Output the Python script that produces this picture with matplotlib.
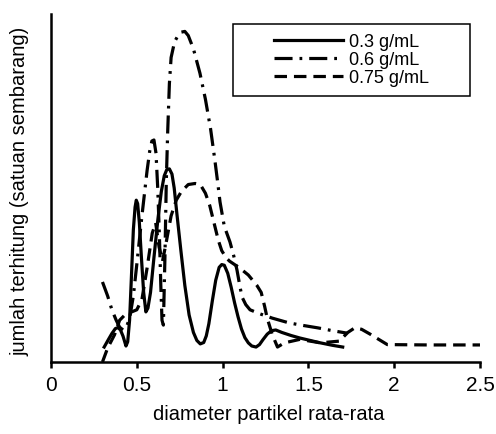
import matplotlib
matplotlib.use("Agg")
import matplotlib.pyplot as plt
from matplotlib.patches import Rectangle

plt.rcParams['font.family'] = ['Liberation Sans Narrow', 'Liberation Sans', 'DejaVu Sans']
plt.rcParams['lines.scale_dashes'] = False

# data (x = diameter, y = arbitrary counts 0-100)
x_03 = [0.31, 0.335, 0.355, 0.375, 0.39, 0.405, 0.42, 0.437, 0.447, 0.458, 0.47, 0.48,
        0.49, 0.497, 0.505, 0.515, 0.527, 0.54, 0.553, 0.565, 0.58, 0.60, 0.623,
        0.643, 0.66, 0.675, 0.69, 0.705, 0.718, 0.735, 0.757, 0.78, 0.805, 0.83,
        0.85, 0.87, 0.89, 0.905, 0.92, 0.94, 0.96, 0.98, 0.995, 1.01, 1.03, 1.05,
        1.07, 1.09, 1.11, 1.13, 1.15, 1.17, 1.195, 1.215, 1.235, 1.26, 1.285, 1.31,
        1.345, 1.40, 1.45, 1.51, 1.57, 1.64, 1.70]
y_03 = [4.3, 6.5, 8.2, 9.6, 9.9, 9.2, 7.4, 4.6, 5.8, 12, 26, 38,
        44.5, 46.5, 45.5, 40, 30, 20, 14.4, 15.5, 20, 30, 41,
        49, 53.5, 55.3, 55.5, 54, 50, 42, 32, 22, 13.5, 8.5,
        6.2, 5.2, 5.6, 7.5, 11, 17.5, 23.5, 27.2, 28, 27.8, 25.5, 21.5,
        17, 13, 9.5, 7, 5.5, 4.6, 4.3, 5, 6.4, 8, 9, 9.2,
        8.5, 7.6, 6.9, 6.2, 5.5, 4.8, 4.3]

x_06 = [0.30, 0.33, 0.355, 0.38, 0.40, 0.42, 0.44, 0.46, 0.48, 0.50, 0.53, 0.56,
        0.575, 0.588, 0.60, 0.612, 0.622, 0.632, 0.64, 0.647, 0.655, 0.664, 0.672,
        0.68, 0.69, 0.70, 0.72, 0.74, 0.76, 0.78, 0.80, 0.83, 0.868, 0.90, 0.93,
        0.955, 0.973, 0.985, 1.01, 1.043, 1.065, 1.084, 1.10, 1.113, 1.135, 1.16,
        1.22, 1.29, 1.39, 1.47, 1.556, 1.64, 1.725]
y_06 = [23, 19, 15, 12, 10, 9.2, 10, 13, 19, 28, 42, 55,
        60.5, 63.5, 63.8, 60, 50, 36, 22, 12, 10.6, 30, 52,
        66, 80, 87.5, 92, 93.8, 94.8, 95, 93.8, 90, 83, 75.5, 67,
        58, 51, 46, 39, 34.5, 30.5, 26.4, 22, 18.7, 16.5, 15,
        13.8, 12.6, 11.2, 10.5, 9.8, 9, 8.3]

x_075 = [0.30, 0.33, 0.37, 0.40, 0.44, 0.47, 0.50, 0.53, 0.56, 0.59, 0.61, 0.63,
         0.65, 0.67, 0.70, 0.73, 0.76, 0.80, 0.84, 0.87, 0.90, 0.925, 0.955, 0.975,
         0.995, 1.02, 1.04, 1.07, 1.10, 1.15, 1.20, 1.225, 1.245, 1.26, 1.29, 1.32,
         1.36, 1.45, 1.57, 1.68, 1.73, 1.77, 1.81, 1.86, 1.91, 1.96, 2.20, 2.50]
y_075 = [0, 4, 7.8, 12, 14, 14.4, 15, 18, 27, 37, 40, 33,
         29, 34, 42, 46.5, 49, 51, 51.3, 51, 48.5, 45, 39, 35,
         32, 30, 29, 28, 27, 25, 22, 20, 16, 12.6, 7.8, 4.3,
         5.5, 6.5, 5.5, 6, 8.5, 9.8, 9.4, 8, 6.5, 5, 4.9, 4.9]

labels = ['0.3 g/mL', '0.6 g/mL', '0.75 g/mL']
xticks = [0, 0.5, 1, 1.5, 2, 2.5]
xtick_labels = ['0', '0.5', '1', '1.5', '2', '2.5']

fig = plt.figure(figsize=(4.96, 4.34), dpi=100)
ax = fig.add_axes([0.1028, 0.1659, 0.8649, 0.8018])

lw = 2.3
ax.plot(x_03, y_03, color='black', lw=lw, label=labels[0], solid_joinstyle='round')
ax.plot(x_06, y_06, color='black', lw=lw, label=labels[1], dashes=(13, 5, 2, 5))
ax.plot(x_075, y_075, color='black', lw=lw, label=labels[2], dashes=(9, 5))

ax.set_xlim(0, 2.5)
ax.set_ylim(0, 100)
ax.set_xticks(xticks)
ax.set_xticklabels(xtick_labels)
ax.set_yticks([])
for s in ['top', 'right']:
    ax.spines[s].set_visible(False)
for s in ['left', 'bottom']:
    ax.spines[s].set_linewidth(1.8)
ax.tick_params(axis='x', direction='out', length=4, width=1.8, pad=6, labelsize=15)

ax.set_xlabel('diameter partikel rata-rata', fontsize=14.5)
ax.xaxis.set_label_coords(0.508, -0.125)
ax.set_ylabel('jumlah terhitung (satuan sembarang)', fontsize=14.5)
ax.yaxis.set_label_coords(-0.05, 0.489)

# legend box
bx, by, bw, bh = 0.424, 0.764, 0.553, 0.207
ax.add_patch(Rectangle((bx, by), bw, bh, transform=ax.transAxes, fill=False,
                       edgecolor='black', lw=1.1, zorder=5))
ax.legend(loc='center', bbox_to_anchor=(bx, by, bw, bh), frameon=False,
          fontsize=13, handlelength=3.8, handletextpad=0.3, labelspacing=0.05,
          borderpad=0)

fig.savefig('out.png', dpi=100)
